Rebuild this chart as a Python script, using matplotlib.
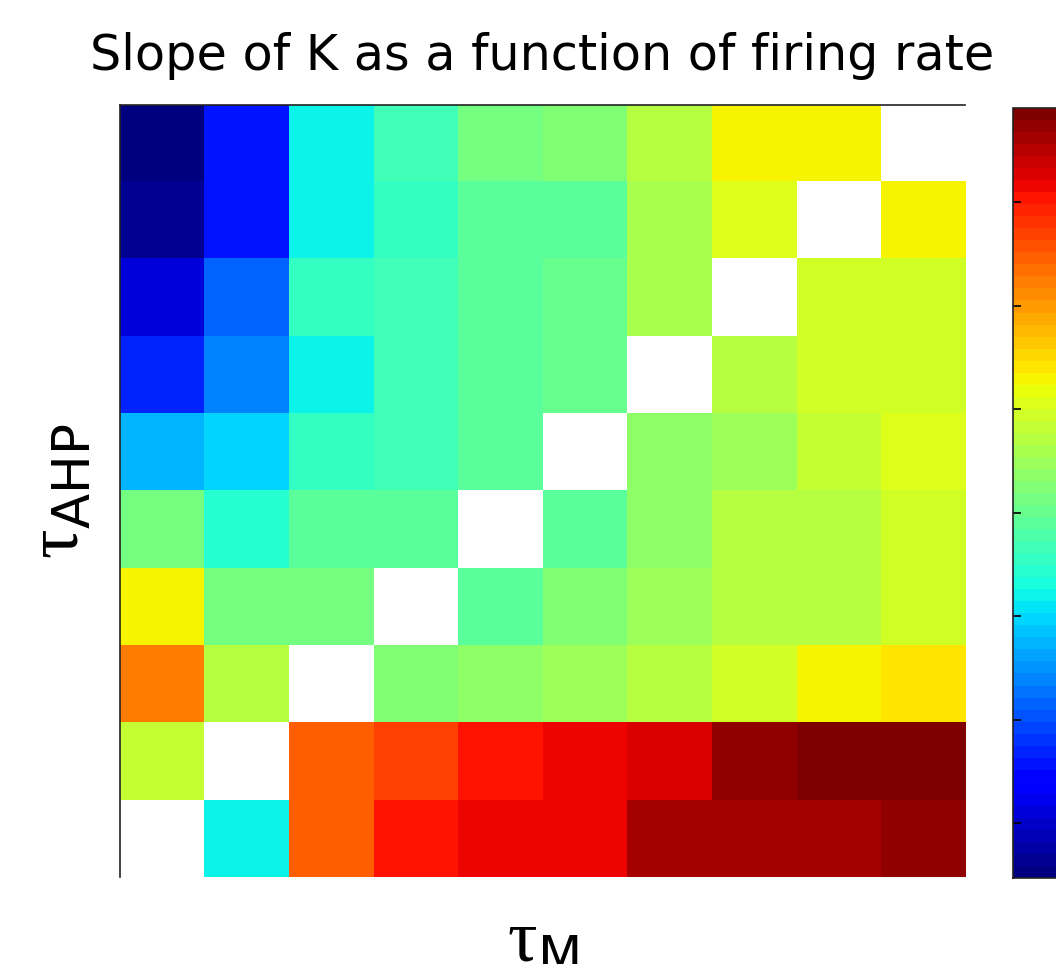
import matplotlib.pyplot as plt
import numpy as np

plt.rcParams['mathtext.fontset'] = 'custom'
plt.rcParams['mathtext.rm'] = 'Liberation Serif'
plt.rcParams['mathtext.sf'] = 'DejaVu Sans'

# slope of K, rows = tau_AHP (top to bottom), cols = tau_M (left to right)
nan = np.nan
row0 = [0.40, 1.57, 3.22, 3.72, 4.12, 4.23, 4.67, 5.24, 5.24, nan]
row1 = [0.68, 1.62, 3.22, 3.59, 3.94, 3.94, 4.64, 5.10, nan, 5.30]
row2 = [1.14, 2.11, 3.58, 3.71, 3.88, 4.04, 4.64, nan, 4.96, 4.96]
row3 = [1.70, 2.33, 3.22, 3.71, 3.88, 4.04, nan, 4.67, 4.96, 4.96]
row4 = [2.70, 2.93, 3.58, 3.71, 3.88, nan, 4.38, 4.52, 4.82, 5.10]
row5 = [4.12, 3.45, 3.88, 3.88, nan, 3.94, 4.38, 4.67, 4.67, 4.96]
row6 = [5.30, 4.12, 4.12, nan, 3.94, 4.23, 4.52, 4.67, 4.67, 4.96]
row7 = [6.23, 4.67, nan, 4.23, 4.38, 4.52, 4.67, 4.96, 5.30, 5.43]
row8 = [4.78, nan, 6.47, 6.74, 7.00, 7.18, 7.32, 7.72, 7.95, 7.95]
row9 = [nan, 3.15, 6.47, 6.98, 7.20, 7.20, 7.60, 7.60, 7.65, 7.72]
cbar_ticks = [1, 2, 3, 4, 5, 6, 7]
vmin, vmax = 0.47, 7.91

data = np.array([row0, row1, row2, row3, row4, row5, row6, row7, row8, row9])

cmap = plt.get_cmap('jet', 64).copy()
cmap.set_bad('white')

fig = plt.figure(figsize=(10.56, 9.64), dpi=100)
ax = fig.add_axes([0.1136, 0.0902, 0.8002, 0.8009])
im = ax.imshow(np.ma.masked_invalid(data), cmap=cmap, vmin=vmin, vmax=vmax,
               aspect='auto', interpolation='nearest')
ax.set_xticks([])
ax.set_yticks([])
ax.spines['right'].set_visible(False)
ax.spines['bottom'].set_visible(False)
for s in ['top', 'left']:
    ax.spines[s].set_linewidth(1.2)
    ax.spines[s].set_color('#222222')

ax.set_title('Slope of K as a function of firing rate', fontsize=35.5,
             family='DejaVu Sans', pad=25)
ax.set_ylabel(r'$\mathrm{\tau}_{\mathsf{AHP}}$', fontsize=53, labelpad=18)
ax.set_xlabel(r'$\mathrm{\tau}_{\mathsf{M}}$', fontsize=53, labelpad=20)

cax = fig.add_axes([0.9593, 0.0892, 0.052, 0.7988])
cb = fig.colorbar(im, cax=cax, ticks=cbar_ticks)
cax.tick_params(left=True, right=False, labelright=False, labelleft=False,
                direction='in', length=6, width=1.2)
cb.outline.set_linewidth(1.2)
cb.outline.set_edgecolor('#222222')

plt.savefig('out.png', dpi=100)
